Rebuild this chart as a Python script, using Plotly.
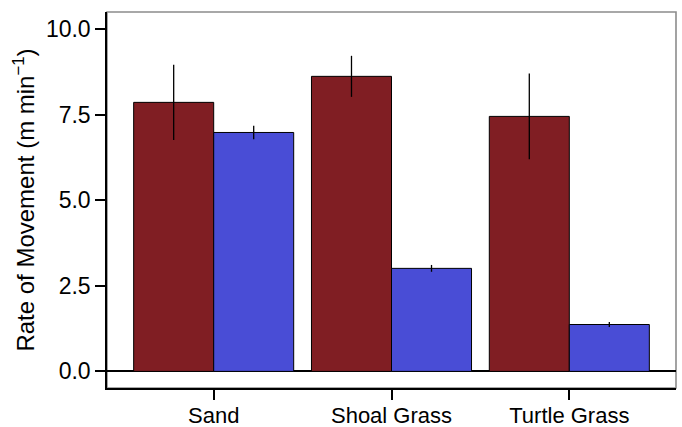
import plotly.graph_objects as go

categories = ["Sand", "Shoal Grass", "Turtle Grass"]
red_values = [7.86, 8.62, 7.45]
red_errors = [1.1, 0.6, 1.25]
blue_values = [6.98, 3.01, 1.37]
blue_errors = [0.2, 0.1, 0.07]
y_ticks = [0.0, 2.5, 5.0, 7.5, 10.0]
y_tick_labels = ["0.0", "2.5", "5.0", "7.5", "10.0"]

RED = "#801E23"
BLUE = "#494DD6"

fig = go.Figure()
fig.add_trace(go.Bar(
    x=categories, y=red_values,
    marker=dict(color=RED, line=dict(color="black", width=1)),
    error_y=dict(type="data", array=red_errors, width=0, thickness=1.3, color="black"),
    showlegend=False,
))
fig.add_trace(go.Bar(
    x=categories, y=blue_values,
    marker=dict(color=BLUE, line=dict(color="black", width=1)),
    error_y=dict(type="data", array=blue_errors, width=0, thickness=1.3, color="black"),
    showlegend=False,
))

fig.add_shape(type="rect", xref="paper", yref="paper", x0=0, x1=1, y0=0, y1=1,
              line=dict(color="#8c8c8c", width=1.6), layer="below")

fig.update_layout(
    width=682, height=427,
    margin=dict(l=107, r=6, t=12, b=39),
    paper_bgcolor="white", plot_bgcolor="white",
    barmode="group", bargap=0.1, bargroupgap=0,
    font=dict(family="Liberation Sans, Arial, sans-serif", color="black"),
    xaxis=dict(
        range=[-0.6, 2.6], showgrid=False, showline=True, linecolor="black", linewidth=1.5,
        ticks="outside", ticklen=10, tickwidth=1.5, tickcolor="black",
        tickfont=dict(size=22), zeroline=False, automargin=False,
        ticklabelstandoff=-3,
    ),
    yaxis=dict(
        range=[-0.485, 10.5], showgrid=False, showline=True, linecolor="black", linewidth=1.5,
        tickmode="array", tickvals=y_ticks, ticktext=y_tick_labels,
        ticks="outside", ticklen=10, tickwidth=1.5, tickcolor="black",
        tickfont=dict(size=23), automargin=False,
        zeroline=True, zerolinecolor="black", zerolinewidth=1.5,
        title=dict(text="Rate of Movement (m min<sup>−1</sup>)", font=dict(size=24), standoff=4),
    ),
)

fig.write_html("out.html")
